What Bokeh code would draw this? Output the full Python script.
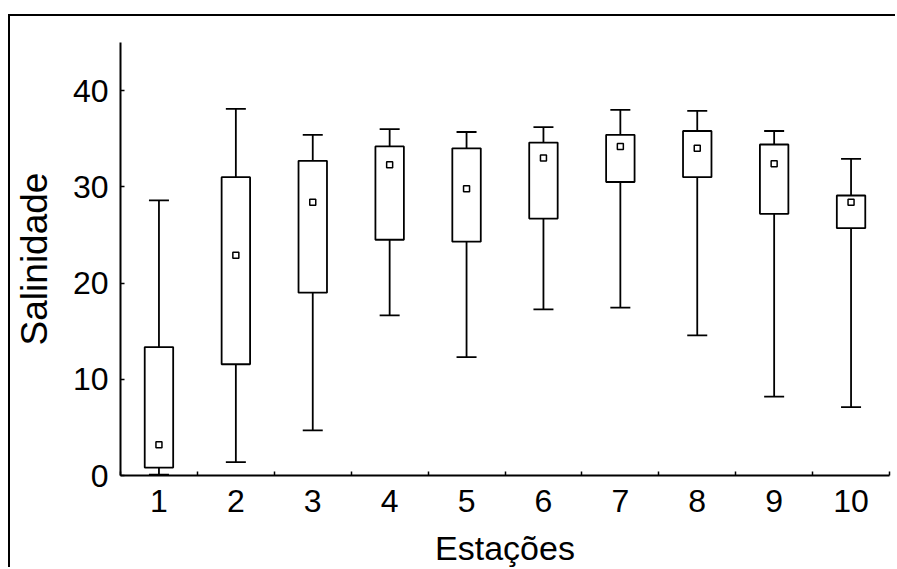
from bokeh.plotting import figure
from bokeh.models import FixedTicker, ColumnDataSource, Range1d
from bokeh.embed import file_html
from bokeh.resources import INLINE

# ---- data ----
stations = [1, 2, 3, 4, 5, 6, 7, 8, 9, 10]
max_vals = [28.6, 38.1, 35.4, 36.0, 35.7, 36.2, 38.0, 37.9, 35.8, 32.9]
q3_vals = [13.35, 31.0, 32.7, 34.2, 34.0, 34.6, 35.4, 35.8, 34.4, 29.1]
med_vals = [3.2, 22.9, 28.4, 32.3, 29.8, 33.0, 34.2, 34.0, 32.4, 28.4]
q1_vals = [0.82, 11.56, 19.0, 24.5, 24.3, 26.7, 30.5, 31.0, 27.2, 25.7]
min_vals = [0.1, 1.4, 4.7, 16.65, 12.3, 17.27, 17.44, 14.57, 8.2, 7.1]
y_ticks = [0, 10, 20, 30, 40]
x_minor = [0.5, 1.5, 2.5, 3.5, 4.5, 5.5, 6.5, 7.5, 8.5, 9.5, 10.5]

src = ColumnDataSource(dict(x=stations, mx=max_vals, q3=q3_vals, med=med_vals,
                            q1=q1_vals, mn=min_vals))

FONT = "Liberation Sans"
LW = 1.8

p = figure(width=887, height=553, x_range=Range1d(0.5, 10.5), y_range=Range1d(0, 45),
           output_backend="svg", toolbar_location=None,
           min_border_left=110, min_border_right=8, min_border_top=26, min_border_bottom=94)
p.margin = (14, 0, 0, 8)
p.styles = {"border-top": "2px solid black", "border-left": "2px solid black"}
p.outline_line_color = None
p.grid.grid_line_color = None
p.background_fill_color = "white"
p.border_fill_color = "white"

# whiskers
p.segment(x0="x", y0="q3", x1="x", y1="mx", source=src, line_color="black", line_width=LW)
p.segment(x0="x", y0="q1", x1="x", y1="mn", source=src, line_color="black", line_width=LW)
p.scatter(x="x", y="mx", source=src, marker="dash", size=20, line_color="black", line_width=LW)
p.scatter(x="x", y="mn", source=src, marker="dash", size=20, line_color="black", line_width=LW)
# boxes
p.vbar(x="x", width=0.37, top="q3", bottom="q1", source=src,
       fill_color="white", line_color="black", line_width=LW)
# medians
p.scatter(x="x", y="med", source=src, marker="square", size=6,
          fill_color="white", line_color="black", line_width=1.5)

# axes
xa = p.xaxis[0]
xa.ticker = FixedTicker(ticks=stations, minor_ticks=x_minor)
xa.major_tick_line_color = None
xa.minor_tick_in = 4
xa.minor_tick_out = 0
xa.minor_tick_line_width = 1.5
xa.minor_tick_line_color = "black"
xa.axis_line_width = 2
xa.axis_label = "Estações"
xa.axis_label_text_font = FONT
xa.axis_label_text_font_style = "normal"
xa.axis_label_text_font_size = "34px"
xa.axis_label_text_color = "black"
xa.axis_label_standoff = 14
xa.major_label_text_font = FONT
xa.major_label_text_font_size = "32px"
xa.major_label_standoff = 8
xa.major_label_text_color = "black"

ya = p.yaxis[0]
ya.ticker = FixedTicker(ticks=y_ticks, minor_ticks=[])
ya.major_tick_in = 4
ya.major_tick_out = 0
ya.major_tick_line_width = 1.5
ya.axis_line_width = 2
ya.axis_label = "Salinidade"
ya.axis_label_text_font = FONT
ya.axis_label_text_font_style = "normal"
ya.axis_label_text_font_size = "37px"
ya.axis_label_text_color = "black"
ya.axis_label_standoff = 15
ya.major_label_text_font = FONT
ya.major_label_text_font_size = "32px"
ya.major_label_standoff = 12
ya.major_label_text_color = "black"

open("out.html", "w").write(file_html(p, INLINE))
